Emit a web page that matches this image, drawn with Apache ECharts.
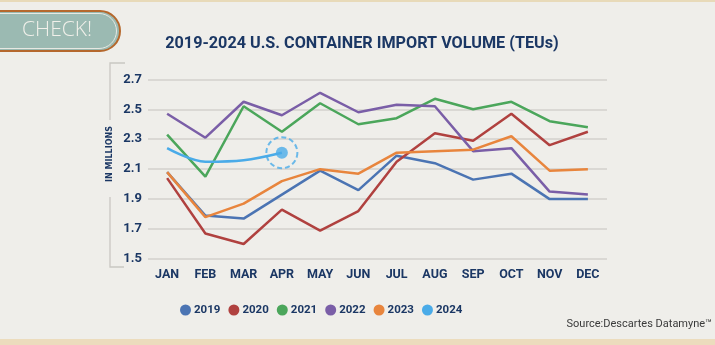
<!DOCTYPE html>
<html>
<head>
<meta charset="utf-8">
<script src="https://cdn.jsdelivr.net/npm/echarts@6/dist/echarts.min.js"></script>
<style>
html,body{margin:0;padding:0;background:#efeeea;}
#c{width:715px;height:345px;}
</style>
</head>
<body>
<div id="c"></div>
<script>
var months = ['JAN','FEB','MAR','APR','MAY','JUN','JUL','AUG','SEP','OCT','NOV','DEC'];
var yTicks = ['1.5','1.7','1.9','2.1','2.3','2.5','2.7'];
var v2019 = [2.08, 1.79, 1.77, 1.93, 2.09, 1.96, 2.19, 2.14, 2.03, 2.07, 1.90, 1.90];
var v2020 = [2.04, 1.67, 1.60, 1.83, 1.69, 1.82, 2.15, 2.34, 2.29, 2.47, 2.26, 2.35];
var v2021 = [2.33, 2.05, 2.52, 2.35, 2.54, 2.40, 2.44, 2.57, 2.50, 2.55, 2.42, 2.38];
var v2022 = [2.47, 2.31, 2.55, 2.46, 2.61, 2.48, 2.53, 2.52, 2.22, 2.24, 1.95, 1.93];
var v2023 = [2.08, 1.78, 1.87, 2.02, 2.10, 2.07, 2.21, 2.22, 2.23, 2.32, 2.09, 2.10];
var v2024 = [2.24, 2.15, 2.16, 2.21];
var years = ['2019','2020','2021','2022','2023','2024'];
var colors = ['#4b74b3','#b0413f','#4ba65b','#7a5ea7','#e8853d','#4aabe8'];

var navy = '#1b3764';
var narrow = '"Roboto","Liberation Sans",sans-serif';
var allData = [v2019, v2020, v2021, v2022, v2023, v2024];

var series = years.map(function(y, i){
  return {
    name: y, type: 'line', data: allData[i],
    smooth: i === 5 ? 0.35 : false,
    symbol: 'none', showSymbol: false,
    lineStyle: {width: 2.5, color: colors[i]},
    itemStyle: {color: colors[i]},
    z: i === 5 ? 5 : 2
  };
});
var last = v2024.length - 1;
series.push({
  name: '2024', type: 'scatter', data: [[months[last], v2024[last]]],
  symbol: 'circle', symbolSize: 12, itemStyle: {color: colors[5]}, z: 6, silent: true
});
series.push({
  name: '2024', type: 'scatter', data: [[months[last], v2024[last]]],
  symbol: 'circle', symbolSize: 31,
  itemStyle: {color: 'rgba(0,0,0,0)', borderColor: colors[5], borderWidth: 2, borderType: [5,3]},
  z: 6, silent: true
});

var chart = echarts.init(document.getElementById('c'), null, {renderer: 'canvas'});
chart.setOption({
  backgroundColor: '#efeeea',
  animation: false,
  title: {
    text: '2019-2024 U.S. CONTAINER IMPORT VOLUME (TEUs)',
    left: 357, top: 31, textAlign: 'center',
    textStyle: {color: navy, fontSize: 16.2, fontWeight: 'bold', fontFamily: narrow}
  },
  legend: {
    data: years.map(function(y, i){ return {name: y, itemStyle: {color: colors[i]}}; }),
    left: 180, top: 304, padding: 0,
    icon: 'circle', itemWidth: 11, itemHeight: 11, itemGap: 8,
    textStyle: {color: navy, fontSize: 11.5, fontWeight: 'bold', fontFamily: narrow, padding: [0,0,0,-2]}
  },
  grid: {left: 148, right: 108, top: 79.3, bottom: 86, containLabel: false},
  xAxis: {
    type: 'category', data: months, boundaryGap: true,
    axisLine: {show: false}, axisTick: {show: false},
    axisLabel: {color: navy, fontSize: 12.5, fontWeight: 'bold', fontFamily: narrow, margin: 9}
  },
  yAxis: {
    type: 'value', min: 1.5, max: 2.7, interval: 0.2,
    axisLine: {show: false}, axisTick: {show: false},
    axisLabel: {color: navy, fontSize: 13, fontWeight: 'bold', fontFamily: narrow, margin: 6,
      formatter: function(v){ return v.toFixed(1); }},
    splitLine: {lineStyle: {color: '#d3d1cc', width: 1.5}}
  },
  series: series,
  graphic: [
    {type: 'rect', shape: {x: 0, y: 0, width: 715, height: 2}, style: {fill: '#e8dab9'}},
    {type: 'rect', shape: {x: 0, y: 339, width: 715, height: 6}, style: {fill: '#ecdcbd'}},
    {type: 'rect', shape: {x: -20, y: 11, width: 140, height: 40, r: [0,20,20,0]},
      style: {fill: '#9bbab2', stroke: '#b5682d', lineWidth: 2}},
    {type: 'rect', shape: {x: -20, y: 13.5, width: 136.5, height: 35, r: [0,17.5,17.5,0]},
      style: {fill: 'none', stroke: '#e6e8e2', lineWidth: 1}},
    {type: 'text', left: 22, top: 20, style: {text: 'CHECK!', fill: '#f1f0ea', fontSize: 21,
      fontFamily: '"Open Sans","Noto Sans",sans-serif', fontWeight: 300}},
    {type: 'polyline', shape: {points: [[125,63],[110,63],[110,120]]},
      style: {stroke: '#c9c7c2', lineWidth: 1.3, fill: 'none'}},
    {type: 'polyline', shape: {points: [[110,197],[110,267],[124,267]]},
      style: {stroke: '#c9c7c2', lineWidth: 1.3, fill: 'none'}},
    {type: 'text', x: 110, y: 154, rotation: Math.PI/2,
      style: {text: 'IN MILLIONS', fill: navy, fontSize: 8, fontWeight: 'bold',
        fontFamily: '"DejaVu Sans","Roboto",sans-serif', align: 'center', verticalAlign: 'middle'}},
    {type: 'text', right: 3, top: 319, style: {text: 'Source:Descartes Datamyne\u2122', fill: '#3a3a3a',
      fontSize: 11, fontFamily: narrow}}
  ]
});
</script>
</body>
</html>
